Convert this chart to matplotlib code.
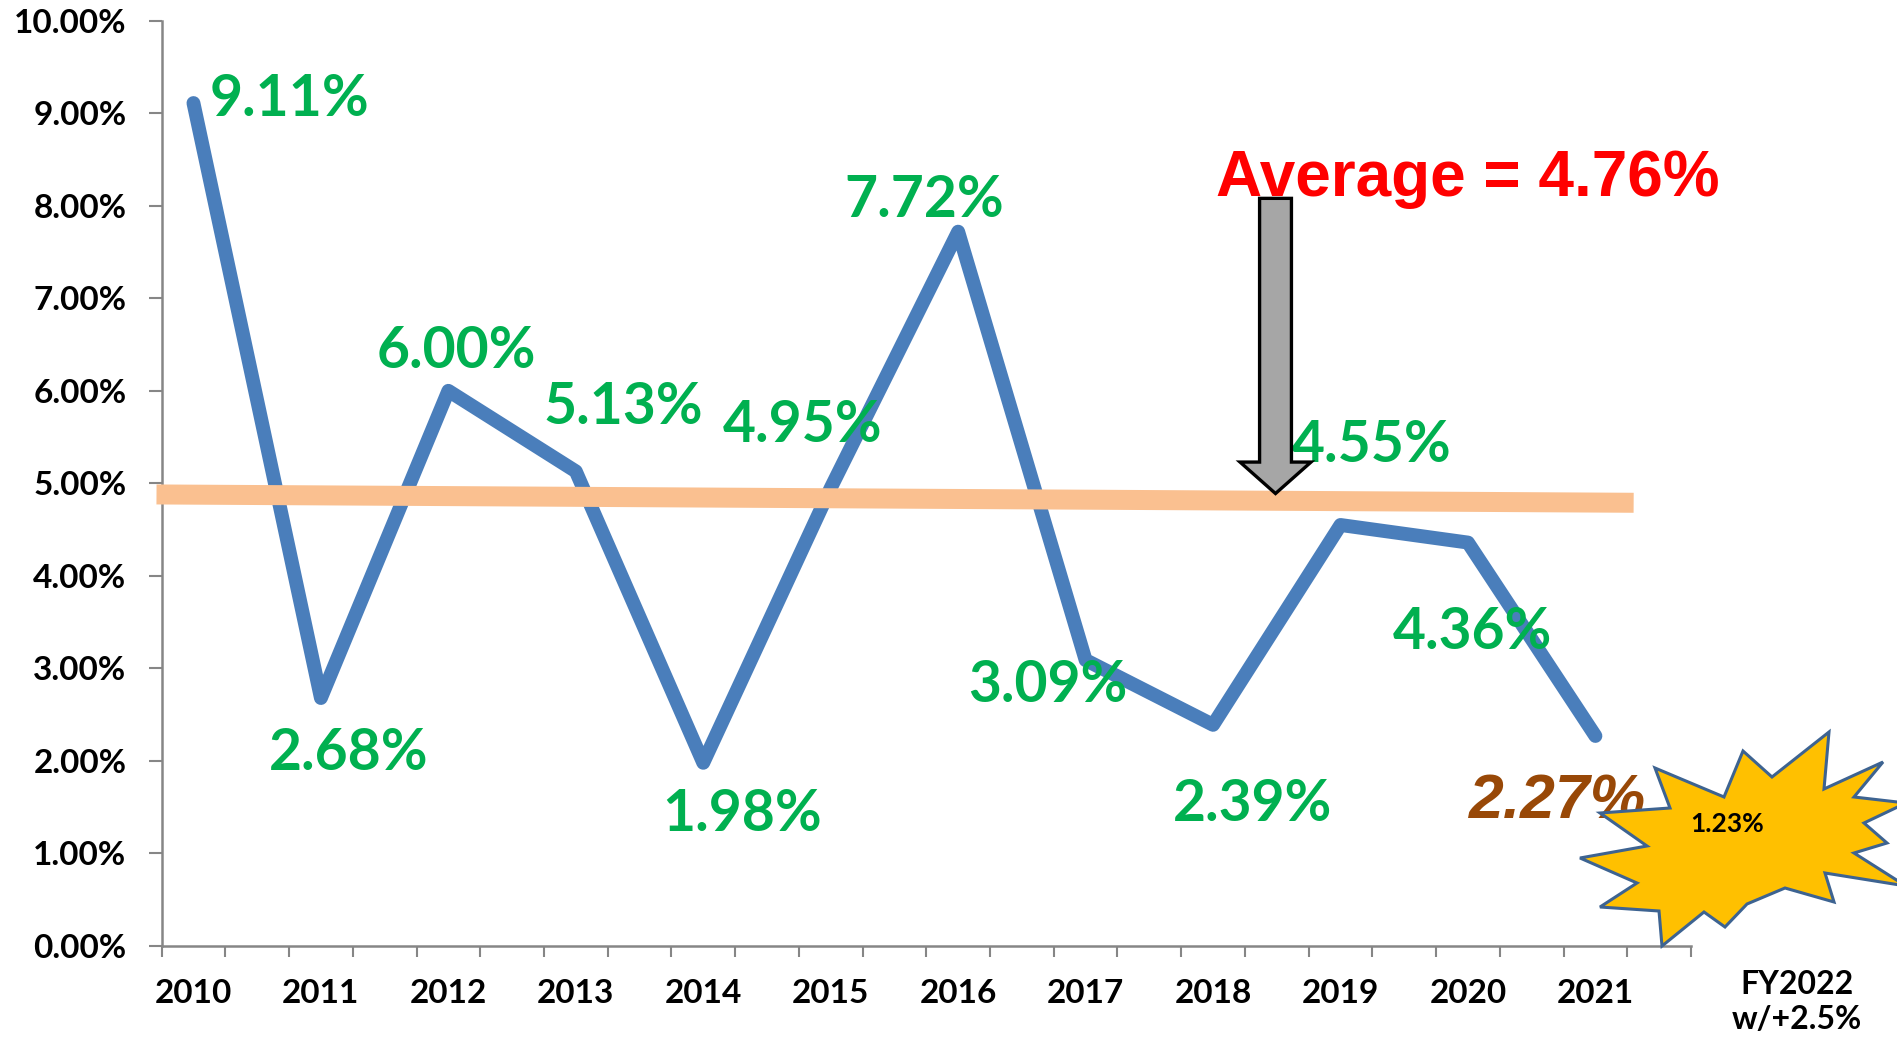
import matplotlib.pyplot as plt
import numpy as np
from matplotlib.patches import FancyArrow, Polygon
from matplotlib.transforms import Affine2D

# data
years = ["2010", "2011", "2012", "2013", "2014", "2015",
         "2016", "2017", "2018", "2019", "2020", "2021"]
rates = [9.11, 2.68, 6.00, 5.13, 1.98, 4.95, 7.72, 3.09, 2.39, 4.55, 4.36, 2.27]
y_ticks = [0, 1, 2, 3, 4, 5, 6, 7, 8, 9, 10]
average = 4.76
fy2022 = 1.23
fy2022_label = "FY2022\nw/+2.5%"

# hand drawn average bar (slightly tilted in the original)
avg_bar_x = [-0.29, 11.30]
avg_bar_y = [4.88, 4.79]

# label offsets (points) from each data point
lab_dx = [68.9, 19.8, 5.5, 34.0, 27.6, -19.9, -24.3, -27.5, 28.2, 22.2, 3.2, -27.4]
lab_dy = [6.0, -36.6, 31.5, 49.3, -33.6, 48.3, 25.8, -15.0, -53.9, 60.7, -61.1, -44.3]

W, H = 1897, 1037
fig = plt.figure(figsize=(W / 100, H / 100), dpi=100)
ax = fig.add_axes([161.6 / W, 1 - 946 / H, (1691 - 161.6) / W, (946 - 20.7) / H])

x = np.arange(len(years))
ax.plot(x, rates, color="#4A7EBB", lw=10, solid_capstyle="round",
        solid_joinstyle="round", zorder=3)
ax.plot(avg_bar_x, avg_bar_y, color="#FAC090", lw=14.4, solid_capstyle="butt",
        zorder=4, clip_on=False)

for i, v in enumerate(rates):
    if i == len(rates) - 1:
        # last year is set apart in brown
        ax.annotate(f"{v:.2f}%", (x[i], v), xytext=(lab_dx[i], lab_dy[i] - 3.5),
                    textcoords="offset points", ha="center", va="center",
                    fontsize=45, fontweight="bold", fontstyle="italic",
                    family="Liberation Sans", color="#984807",
                    zorder=6, annotation_clip=False)
        continue
    ax.annotate(f"{v:.2f}%", (x[i], v), xytext=(lab_dx[i], lab_dy[i] - 3.5),
                textcoords="offset points", ha="center", va="center",
                fontsize=41, fontweight="bold", family="Lato", color="#00B050",
                zorder=6, annotation_clip=False)

# grey arrow pointing at the average bar
ax.add_patch(FancyArrow(8.49, 8.08, 0, 4.89 - 8.08, width=0.25, head_width=0.557,
                        head_length=0.34, length_includes_head=True,
                        fc="#A6A6A6", ec="black", lw=2.4, joinstyle="miter",
                        zorder=7, clip_on=False))
ax.text(10.0, 8.11, f"Average = {average:.2f}%", ha="center", va="baseline",
        fontsize=46, fontweight="bold", family="Liberation Sans", color="#FF0000",
        zorder=8, clip_on=False)

ax.set_xlim(-0.25, 11.75)
ax.set_ylim(0, 10)
ax.set_yticks(y_ticks)
ax.set_yticklabels([f"{t:.2f}%" for t in y_ticks])
ax.set_xticks(x)
ax.set_xticklabels(years)
ax.set_xticks(np.arange(-0.25, 11.76, 0.5), minor=True)

for s in ["top", "right"]:
    ax.spines[s].set_visible(False)
for s in ["left", "bottom"]:
    ax.spines[s].set_color("#868686")
    ax.spines[s].set_linewidth(1.8)

ax.tick_params(axis="y", length=9.4, width=1.5, color="#868686", pad=16)
ax.tick_params(axis="x", which="major", length=0, pad=24)
ax.tick_params(axis="x", which="minor", length=8, width=1.5, color="#868686")
for lab in ax.get_xticklabels() + ax.get_yticklabels():
    lab.set_fontsize(24)
    lab.set_fontweight("bold")
    lab.set_family("Lato")

# starburst for FY2022, in figure pixels
px = Affine2D().scale(1 / W, -1 / H).translate(0, 1) + fig.transFigure
burst = [(1655, 768), (1724, 797), (1743, 751), (1772, 777), (1829, 732),
         (1824, 789), (1883, 762), (1854, 797), (1906, 803), (1864, 823),
         (1887, 843), (1854, 853), (1906, 886), (1825, 873), (1834, 902),
         (1785, 888), (1747, 904), (1725, 927), (1704, 912), (1662, 946),
         (1659, 911), (1600, 907), (1637, 883), (1580, 858), (1647, 846),
         (1600, 813), (1670, 808)]
fig.add_artist(Polygon(burst, closed=True, transform=px, fc="#FFC000",
                       ec="#3D6391", lw=2.2, joinstyle="miter", zorder=10))
fig.text(1727 / W, 1 - 824 / H, f"{fy2022:.2f}%", ha="center", va="center",
         fontsize=19, fontweight="bold", family="Lato", zorder=11)
fig.text(1797 / W, 1 - 1002 / H, fy2022_label, ha="center", va="center",
         fontsize=23, fontweight="bold", family="Lato", linespacing=1.28, zorder=11)

fig.savefig("out.png", dpi=100)
